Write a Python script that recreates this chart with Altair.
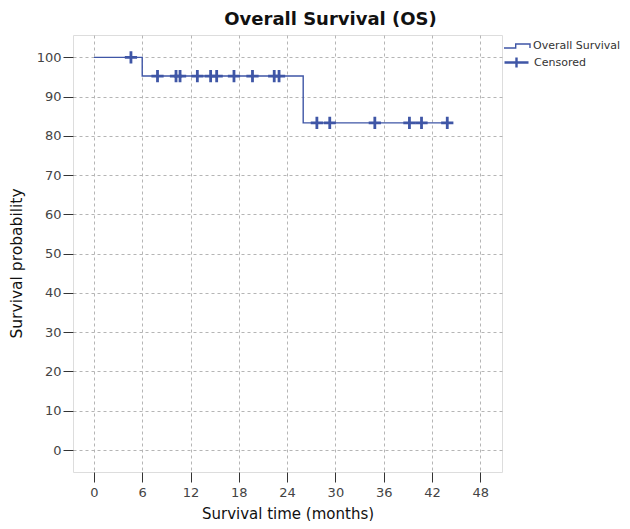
import altair as alt
import pandas as pd

# Kaplan-Meier step curve (months, survival %)
step_time = [0, 6, 26, 44]
step_surv = [100, 95.24, 83.33, 83.33]

# Censored observations (months, survival %)
cens_time = [4.6, 7.9, 10.2, 10.7, 12.85, 14.5, 15.25, 17.4, 19.7, 22.4, 23.0,
             27.7, 29.3, 34.9, 39.2, 40.7, 43.9]
cens_surv = [100] + [95.24] * 10 + [83.33] * 6

x_ticks = [0, 6, 12, 18, 24, 30, 36, 42, 48]
y_ticks = [0, 10, 20, 30, 40, 50, 60, 70, 80, 90, 100]

BLUE = "#3f56a6"
FONT = "DejaVu Sans"

step_df = pd.DataFrame({"t": step_time, "s": step_surv, "series": "Overall Survival"})
cens_df = pd.DataFrame({"t": cens_time, "s": cens_surv, "series": "Censored"})

xscale = alt.Scale(domain=[-2.6, 50.7], nice=False, zero=False)
yscale = alt.Scale(domain=[-5.6, 105.7], nice=False, zero=False)

xaxis = alt.Axis(values=x_ticks, title="Survival time (months)", tickSize=10,
                 tickColor="#333", domain=False, labelFontSize=13, labelColor="#444",
                 labelFont=FONT, titleFont=FONT, titleFontSize=15, titleFontWeight="normal",
                 titleColor="#111", labelPadding=4, titlePadding=7,
                 grid=True, gridDash=[3, 3], gridColor="#b5b5b5", labelFlush=False)
yaxis = alt.Axis(values=y_ticks, title="Survival probability", tickSize=10,
                 tickColor="#333", domain=False, labelFontSize=13, labelColor="#444",
                 labelFont=FONT, titleFont=FONT, titleFontSize=15.5, titleFontWeight="normal",
                 titleColor="#111", labelPadding=2, titlePadding=12, titleY=228,
                 grid=True, gridDash=[3, 3], gridColor="#b5b5b5")

line = alt.Chart(step_df).mark_line(interpolate="step-after", strokeWidth=1.4).encode(
    x=alt.X("t:Q", scale=xscale, axis=xaxis),
    y=alt.Y("s:Q", scale=yscale, axis=yaxis),
    color=alt.Color("series:N",
                    scale=alt.Scale(domain=["Overall Survival"], range=[BLUE]),
                    legend=alt.Legend(title=None, orient="none", legendX=430, legendY=-3,
                                      symbolType="M-1,0.15H-0.1V-0.15H1V0.15",
                                      symbolSize=676, symbolStrokeWidth=1.4,
                                      labelFont=FONT, labelFontSize=11, labelColor="#333",
                                      labelOffset=2, padding=0)),
)

pts = alt.Chart(cens_df).mark_point(shape="M-1,0H1M0,-1V1", size=150, strokeWidth=2.8,
                                    filled=False, opacity=1).encode(
    x=alt.X("t:Q", scale=xscale),
    y=alt.Y("s:Q", scale=yscale),
    color=alt.Color("series:N",
                    scale=alt.Scale(domain=["Censored"], range=[BLUE]),
                    legend=alt.Legend(title=None, orient="none", legendX=430, legendY=14,
                                      symbolType="M-1,0H1M0,-0.42V0.42",
                                      symbolSize=576, symbolStrokeWidth=2.4,
                                      symbolFillColor="transparent",
                                      labelFont=FONT, labelFontSize=11, labelColor="#333",
                                      labelOffset=4, padding=0)),
)

chart = alt.layer(line, pts).resolve_scale(color="independent").properties(
    width=429, height=437,
    autosize=alt.AutoSizeParams(type="none"),
    padding={"left": 65, "top": 27, "right": 120, "bottom": 49},
    title=alt.TitleParams("Overall Survival (OS)", font=FONT, fontSize=18,
                          fontWeight="bold", color="#111", anchor="middle",
                          dx=43, offset=3),
).configure_view(
    fill="#f0f0f0", stroke="#666", strokeWidth=1.3
).configure(background="white")

chart.save("out.html", embed_options={"renderer": "svg", "actions": False})
